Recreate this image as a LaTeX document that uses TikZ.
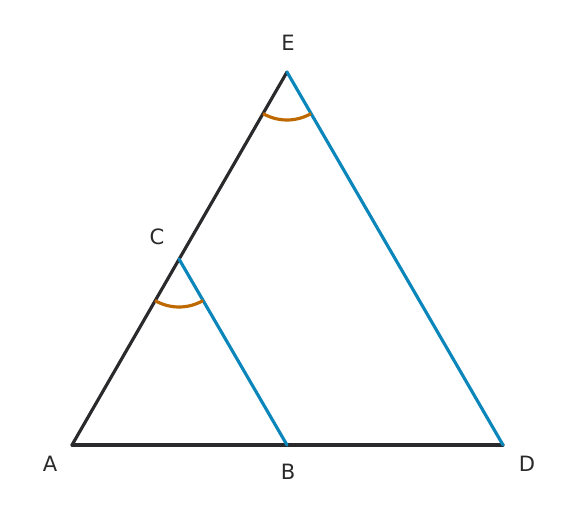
\documentclass[tikz,border=0pt]{standalone}
\usepackage{fontspec}
\setmainfont{DejaVu Sans}
\definecolor{edgedark}{RGB}{42,42,44}
\definecolor{edgeblue}{RGB}{10,134,186}
\definecolor{arcorange}{RGB}{190,104,0}
\tikzset{
  lbl/.style={font=\fontsize{12}{14}\selectfont, text=edgedark, inner sep=0pt},
  darkline/.style={draw=edgedark, line width=1.8pt},
  blueline/.style={draw=edgeblue, line width=1.8pt},
  anglearc/.style={draw=arcorange, line width=1.8pt}
}
\begin{document}
\begin{tikzpicture}[x=0.02cm, y=-0.02cm]
  \useasboundingbox (0,0) rectangle (575,518);
  \path
    (72,445) coordinate (A)
    (287,445) coordinate (B)
    (179,259) coordinate (C)
    (503,445) coordinate (D)
    (287,72) coordinate (E);
  \path
    (50,464) node[lbl] (la){A}
    (288,472) node[lbl] (lb){B}
    (157,237) node[lbl] (lc){C}
    (527,464) node[lbl] (ld){D}
    (288,43) node[lbl] (le){E};
  \begin{scope}[line cap=round]
    \draw[darkline] (A) to (E);
    \draw[darkline] (A) to (D);
    \draw[blueline] (C) to (B);
    \draw[blueline] (E) to (D);
  \end{scope}
  \draw[anglearc] (C) ++(120:48) arc[start angle=120, end angle=60, radius=48];
  \draw[anglearc] (E) ++(120:48) arc[start angle=120, end angle=60, radius=48];
\end{tikzpicture}
\end{document}
